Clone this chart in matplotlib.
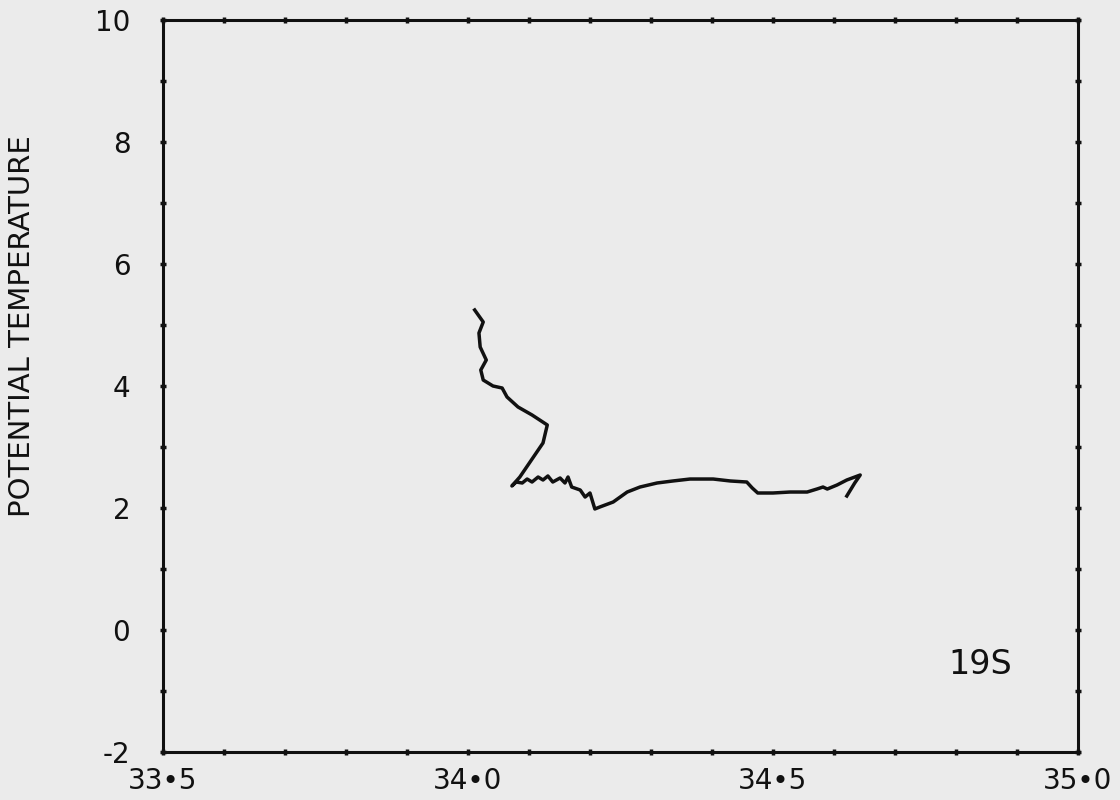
import numpy as np
import matplotlib
matplotlib.use("Agg")
import matplotlib.pyplot as plt
from matplotlib.ticker import MultipleLocator

## salinidade x temperatura potencial (perfil 19S)
salinity = [34.011, 34.025, 34.018, 34.020, 34.030, 34.021, 34.025, 34.041,
            34.056, 34.064, 34.082, 34.105, 34.130, 34.123, 34.085, 34.072,
            34.079, 34.089, 34.097, 34.105, 34.115, 34.123, 34.131, 34.139,
            34.151, 34.159, 34.164, 34.170, 34.184, 34.192, 34.200, 34.208,
            34.216, 34.238, 34.261, 34.282, 34.310, 34.336, 34.364, 34.402,
            34.430, 34.457, 34.466, 34.475, 34.500, 34.528, 34.556, 34.572,
            34.582, 34.589, 34.605, 34.621, 34.643, 34.634, 34.621]
theta = [5.246, 5.049, 4.869, 4.639, 4.426, 4.262, 4.098, 4.000,
         3.967, 3.820, 3.656, 3.525, 3.361, 3.066, 2.508, 2.361,
         2.426, 2.410, 2.475, 2.426, 2.508, 2.459, 2.525, 2.426,
         2.492, 2.410, 2.508, 2.344, 2.295, 2.180, 2.246, 1.984,
         2.016, 2.098, 2.262, 2.344, 2.410, 2.443, 2.475, 2.475,
         2.443, 2.426, 2.328, 2.246, 2.246, 2.262, 2.262, 2.311,
         2.344, 2.311, 2.377, 2.459, 2.541, 2.410, 2.197]

xticks = [33.5, 34.0, 34.5, 35.0]
xticklabels = ['33\u20225', '34\u20220', '34\u20225', '35\u20220']
yticks = [-2, 0, 2, 4, 6, 8, 10]
yticklabels = ['-2', '0', '2', '4', '6', '8', '10']
station = '19S'

bg = '#ebebeb'
ink = '#111111'

fig = plt.figure(figsize=(11.2, 8), dpi=100)
fig.patch.set_facecolor(bg)
ax = fig.add_axes([0.1455, 0.06, 0.817, 0.915])
ax.set_facecolor(bg)

ax.plot(salinity, theta, color=ink, lw=2.5, solid_joinstyle='round')

ax.set_xlim(33.5, 35.0)
ax.set_ylim(-2, 10)
ax.set_xticks(xticks)
ax.set_xticklabels(xticklabels)
ax.set_yticks(yticks)
ax.set_yticklabels(yticklabels)
ax.xaxis.set_minor_locator(MultipleLocator(0.1))
ax.yaxis.set_minor_locator(MultipleLocator(1))

for s in ax.spines.values():
    s.set_linewidth(2.2)
    s.set_color(ink)

ax.tick_params(which='both', direction='inout', length=5, width=2.5,
               color=ink, top=True, right=True)
ax.tick_params(axis='x', which='major', labelsize=20, pad=8, labelcolor=ink)
ax.tick_params(axis='y', which='major', labelsize=20, pad=21, labelcolor=ink)

ax.set_ylabel('POTENTIAL TEMPERATURE', fontsize=21, color=ink)
ax.yaxis.set_label_coords(-0.139, 0.582)

ax.text(0.893, 0.119, station, transform=ax.transAxes, fontsize=24,
        color=ink, ha='center', va='center')

fig.savefig('out.png', dpi=100, facecolor=bg)
